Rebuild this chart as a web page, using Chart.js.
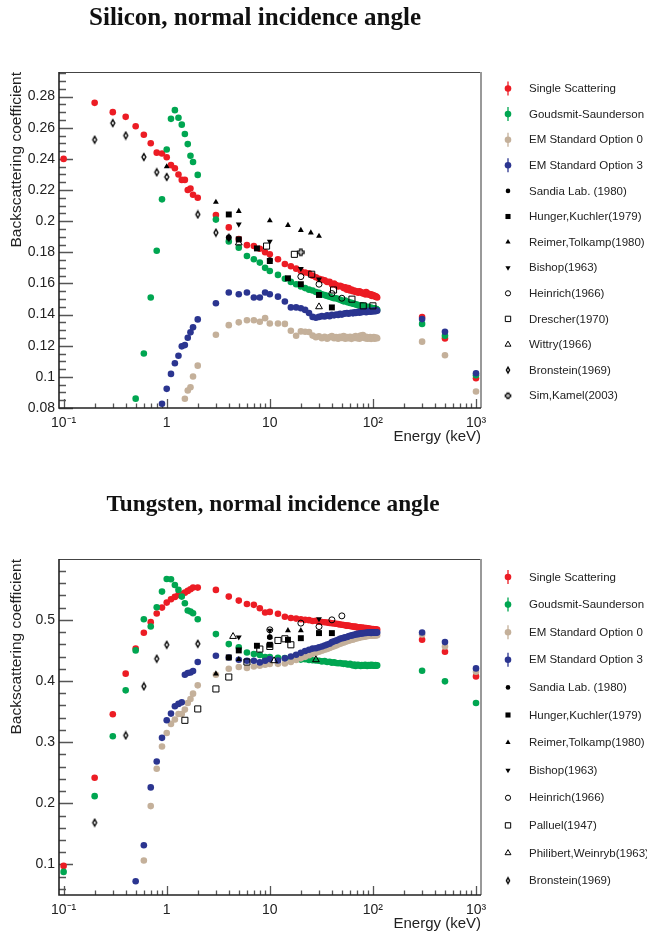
<!DOCTYPE html>
<html>
<head>
<meta charset="utf-8">
<script src="https://cdn.jsdelivr.net/npm/chart.js@4.4.0/dist/chart.umd.min.js"></script>
<style>
html, body { margin: 0; padding: 0; background: #fff; }
#wrap { position: relative; width: 647px; height: 933px; overflow: hidden; }
canvas { position: absolute; left: 0; }
#cSi { top: 0; }
#cW { top: 487px; }
</style>
</head>
<body>
<div id="wrap">
<canvas id="cSi" width="647" height="446"></canvas>
<canvas id="cW" width="647" height="446"></canvas>
</div>
<script>
// energies (keV) of the simulated points
const energyMC = [0.1,0.2,0.3,0.4,0.5,0.6,0.7,0.8,0.9,1.0,1.1,1.2,1.3,1.4,1.5,1.6,1.7,1.8,2.0,
  3,4,5,6,7,8,9,10,
  12,14,16,18,20,22,24,26,28,30,32,34,36,38,40,42,44,46,48,50,52,54,56,58,60,
  62,64,66,68,70,72,74,76,78,80,82,84,86,88,90,92,94,96,98,100,102,104,106,108,110,
  300,500,1000];

// Silicon
const siSingle = [0.240,0.276,0.270,0.267,0.261,0.2555,0.250,0.244,0.2435,0.241,0.236,0.234,0.230,0.2265,0.2265,0.220,0.221,0.217,0.215,
  0.204,0.196,0.1885,0.1846,0.184,0.1823,0.180,0.1787,
  0.1755,0.1725,0.171,0.1695,0.168,0.167,0.1665,0.165,0.164,0.163,0.1625,0.162,0.161,0.161,0.1595,0.160,0.159,0.158,0.1585,0.158,0.157,0.1575,0.156,0.157,0.1555,
  0.156,0.155,0.1555,0.1545,0.155,0.154,0.155,0.1545,0.154,0.1535,0.154,0.153,0.1545,0.153,0.1535,0.153,0.1525,0.153,0.152,0.1525,0.152,0.152,0.1515,0.1515,0.151,
  0.1384,0.1247,0.0991];
const siGoudsmit = [null,null,null,null,0.086,0.115,0.151,0.181,0.214,0.246,0.2657,0.2713,0.2664,0.262,0.256,0.2495,0.242,0.238,0.2297,
  0.201,0.187,0.183,0.1776,0.1755,0.1734,0.170,0.168,
  0.1655,0.163,0.161,0.1595,0.158,0.157,0.156,0.1555,0.1545,0.154,0.153,0.1525,0.152,0.1515,0.151,0.1505,0.1505,0.150,0.1495,0.149,0.1485,0.149,0.148,0.148,0.1475,
  0.1475,0.147,0.147,0.1465,0.1465,0.146,0.146,0.1455,0.146,0.145,0.1455,0.145,0.145,0.1445,0.145,0.1445,0.144,0.1445,0.144,0.144,0.1435,0.144,0.1435,0.1435,0.143,
  0.134,0.1264,0.101];
const siOpt0 = [null,null,null,null,null,null,null,null,null,null,null,null,null,null,0.0859,0.0912,0.0933,0.1002,0.1072,
  0.127,0.1332,0.135,0.1364,0.1364,0.1354,0.1377,0.1343,
  0.1343,0.134,0.1296,0.1264,0.1292,0.129,0.1288,0.1265,0.1255,0.126,0.1248,0.1258,0.1245,0.1255,0.1262,0.1248,0.1256,0.1245,0.1258,0.125,0.1262,0.1245,0.1255,0.1248,0.1258,
  0.1244,0.1256,0.125,0.1262,0.1248,0.1255,0.1245,0.1265,0.1252,0.1268,0.1255,0.1248,0.1258,0.1245,0.1252,0.1246,0.1255,0.1244,0.125,0.1248,0.1255,0.1245,0.125,0.1252,0.1248,
  0.1226,0.1139,0.0906];
const siOpt3 = [null,null,null,null,null,null,null,null,0.0827,0.0923,0.1019,0.1087,0.1136,0.1196,0.1204,0.1251,0.1286,0.1318,0.1369,
  0.1473,0.1542,0.1531,0.1542,0.151,0.151,0.1542,0.1531,
  0.1515,0.1484,0.1446,0.1446,0.1441,0.143,0.141,0.1385,0.138,0.1385,0.139,0.1388,0.1395,0.139,0.1398,0.1395,0.140,0.1398,0.1405,0.140,0.1405,0.1408,0.141,0.1405,0.141,
  0.1412,0.1408,0.1415,0.141,0.1415,0.1418,0.1412,0.142,0.1415,0.142,0.1418,0.1422,0.1415,0.1422,0.142,0.1425,0.1418,0.1425,0.142,0.1425,0.1422,0.1428,0.1422,0.1428,0.1425,
  0.1371,0.129,0.1023];

const siSandiaE = [4, 10], siSandiaV = [0.1895, 0.175];
const siHungerE = [4, 5, 7.5, 10, 15, 20, 30, 40], siHungerV = [0.2043, 0.1883, 0.1825, 0.1744, 0.1633, 0.1595, 0.1526, 0.1446];
const siReimerE = [1, 3, 5, 10, 15, 20, 25, 30], siReimerV = [0.235, 0.2122, 0.2064, 0.2004, 0.1974, 0.1942, 0.1926, 0.1904];
const siBishopE = [5, 10, 20, 30], siBishopV = [0.198, 0.187, 0.1695, 0.1627];
const siHeinrichE = [20, 30, 40, 50], siHeinrichV = [0.1644, 0.1595, 0.1535, 0.1505];
const siDrescherE = [9.3, 17.3, 25.5, 41.5, 62.6, 80.6, 100], siDrescherV = [0.184, 0.1787, 0.1659, 0.1558, 0.1499, 0.1456, 0.1456];
const siWittryE = [5, 30], siWittryV = [0.186, 0.145];
const siBronsteinE = [0.2, 0.3, 0.4, 0.6, 0.8, 1, 2, 3, 4], siBronsteinV = [0.2523, 0.263, 0.255, 0.2412, 0.2314, 0.2284, 0.2043, 0.1926, 0.1894];
const siSimKamelE = [20], siSimKamelV = [0.180];

// Tungsten
const wSingle = [0.0976,0.2417,0.3455,0.412,0.4532,0.4788,0.4962,0.5103,0.52,0.5282,0.5337,0.5375,0.5408,0.5419,0.5445,0.5473,0.55,0.5527,0.5527,
  0.549,0.538,0.5315,0.526,0.5245,0.519,0.512,0.513,
  0.510,0.505,0.503,0.502,0.501,0.500,0.4995,0.498,0.4985,0.497,0.4965,0.496,0.4955,0.495,0.4945,0.494,0.4935,0.493,0.4925,0.492,0.4915,0.491,0.4905,0.4905,0.490,
  0.4895,0.489,0.4885,0.489,0.488,0.4875,0.488,0.487,0.4875,0.4865,0.487,0.486,0.4865,0.4855,0.486,0.485,0.4855,0.485,0.4845,0.485,0.4845,0.484,0.4845,0.4835,0.484,
  0.4674,0.4478,0.4075];
const wGoudsmit = [0.0878,0.2117,0.3097,0.3847,0.450,0.501,0.489,0.5207,0.5462,0.5669,0.5663,0.5571,0.549,0.538,0.5271,0.5152,0.5135,0.5109,0.501,
  0.4767,0.4603,0.4549,0.4467,0.444,0.4424,0.4391,0.439,
  0.438,0.4375,0.436,0.4365,0.435,0.4355,0.4345,0.434,0.4335,0.433,0.432,0.4325,0.431,0.4315,0.430,0.4305,0.4295,0.429,0.4295,0.4285,0.428,0.4285,0.4275,0.427,0.428,
  0.4265,0.4255,0.427,0.4245,0.426,0.4265,0.4255,0.4245,0.426,0.425,0.4255,0.4265,0.425,0.4245,0.426,0.4255,0.425,0.4265,0.4255,0.426,0.425,0.4255,0.426,0.425,0.4255,
  0.4168,0.3994,0.364];
const wOpt0 = [null,null,null,null,null,0.1064,0.1954,0.2564,0.2928,0.315,0.3298,0.3369,0.3461,0.3461,0.3532,0.364,0.3706,0.3793,0.3929,
  0.4103,0.4201,0.4228,0.4212,0.4238,0.425,0.4266,0.4277,
  0.428,0.4285,0.431,0.4345,0.437,0.4395,0.442,0.4445,0.446,0.448,0.4495,0.451,0.4525,0.454,0.4555,0.457,0.458,0.4595,0.461,0.462,0.463,0.464,0.465,0.466,0.4665,
  0.4675,0.468,0.4685,0.4695,0.470,0.4705,0.471,0.4715,0.472,0.472,0.4725,0.473,0.473,0.4735,0.4735,0.474,0.474,0.4745,0.474,0.4745,0.4745,0.475,0.4745,0.475,0.475,
  0.476,0.4565,0.415];
const wOpt3 = [null,null,null,null,0.0726,0.1313,0.226,0.2683,0.307,0.3357,0.3467,0.3586,0.3625,0.3651,0.4103,0.413,0.414,0.4163,0.431,
  0.4413,0.4385,0.4347,0.4331,0.4331,0.4304,0.433,0.4358,
  0.4335,0.437,0.440,0.443,0.446,0.449,0.451,0.453,0.4535,0.455,0.4565,0.458,0.4595,0.461,0.4635,0.465,0.466,0.4675,0.469,0.470,0.4705,0.4715,0.472,0.473,0.474,
  0.4745,0.475,0.4755,0.476,0.477,0.4765,0.4775,0.478,0.4775,0.4785,0.478,0.479,0.4785,0.479,0.4795,0.479,0.4795,0.4785,0.4795,0.479,0.4795,0.479,0.4795,0.479,0.4795,
  0.4793,0.4636,0.4206];

const wSandiaE = [10], wSandiaV = [0.4718];
const wHungerE = [4, 5, 7.5, 10, 15, 20, 30, 40], wHungerV = [0.4385, 0.45, 0.4576, 0.4592, 0.4674, 0.47, 0.4783, 0.4783];
const wReimerE = [3, 5, 10, 15, 20], wReimerV = [0.4119, 0.4355, 0.4718, 0.4826, 0.4826];
const wBishopE = [5, 10, 30], wBishopV = [0.4718, 0.4826, 0.5016];
const wHeinrichE = [10, 20, 30, 40, 50], wHeinrichV = [0.4837, 0.4946, 0.489, 0.5, 0.5065];
const wPalluelE = [1.5, 2, 3, 4, 6, 8, 10, 12, 14, 16], wPalluelV = [0.3357, 0.3543, 0.387, 0.4065, 0.431, 0.4522, 0.4565, 0.4663, 0.469, 0.4592];
const wPhilibertE = [4.4, 11, 28], wPhilibertV = [0.4728, 0.4331, 0.4347];
const wBronsteinE = [0.2, 0.4, 0.6, 0.8, 1, 2], wBronsteinV = [0.1683, 0.311, 0.3912, 0.4364, 0.4592, 0.4608];

// axes
const xRange = [0.0902, 1118];
const xTickValues = [0.1, 1, 10, 100, 1000];
const xTickLabels = ['10\u207B\u00B9', '1', '10', '10\u00B2', '10\u00B3'];
const siYRange = [0.08, 0.2958];
const siYTicks = [0.08, 0.1, 0.12, 0.14, 0.16, 0.18, 0.2, 0.22, 0.24, 0.26, 0.28];
const wYRange = [0.05, 0.5995];
const wYTicks = [0.1, 0.2, 0.3, 0.4, 0.5];

const SANS = '"Liberation Sans", Arial, Helvetica, sans-serif';
const RED = '#ec1c24', GREEN = '#00a651', TAN = '#c4b09a', BLUE = '#2b3590';

Chart.defaults.font.family = SANS;
Chart.defaults.color = '#222';

function pts(xs, ys) {
    return xs.map((x, i) => ({ x: x, y: ys[i] }));
}

// narrow open diamond and open cross markers, k = scale
function diamondMarker(k) {
    const c = document.createElement('canvas');
    c.width = 8; c.height = 10;
    const g = c.getContext('2d');
    g.strokeStyle = '#000';
    g.lineWidth = 1.4;
    g.beginPath();
    g.moveTo(4, 5 - 3.3 * k); g.lineTo(4 + 1.9 * k, 5); g.lineTo(4, 5 + 3.3 * k); g.lineTo(4 - 1.9 * k, 5);
    g.closePath();
    g.stroke();
    return c;
}
function crossMarker(k) {
    const c = document.createElement('canvas');
    c.width = 10; c.height = 10;
    const g = c.getContext('2d');
    g.strokeStyle = '#000';
    g.lineWidth = 1.2;
    const o = 5, a = o - 3.2 * k, b = o - 1.2 * k, d = o + 1.2 * k, e = o + 3.2 * k;
    g.beginPath();
    g.moveTo(b, a); g.lineTo(d, a); g.lineTo(d, b); g.lineTo(e, b); g.lineTo(e, d); g.lineTo(d, d);
    g.lineTo(d, e); g.lineTo(b, e); g.lineTo(b, d); g.lineTo(a, d); g.lineTo(a, b); g.lineTo(b, b);
    g.closePath();
    g.stroke();
    return c;
}

function mcSet(label, color, ys, order) {
    return {
        label: label, data: pts(energyMC, ys), mc: true, order: order, clip: false,
        pointStyle: 'circle', pointRadius: 3.3, pointBorderWidth: 0,
        pointBackgroundColor: color, pointBorderColor: color, backgroundColor: color, borderColor: color
    };
}

// marker styles: plot radius r, legend radius lr
const MARKS = {
    dot:    { pointStyle: 'circle', r: 2.9, lr: 2.3, fill: true },
    square: { pointStyle: 'rect', r: 4.2, lr: 3.6, fill: true },
    up:     { pointStyle: 'triangle', r: 3.4, lr: 3.0, fill: true },
    down:   { pointStyle: 'triangle', r: 3.4, lr: 3.0, fill: true, rotation: 180 },
    circ:   { pointStyle: 'circle', r: 3.0, lr: 2.6, fill: false },
    box:    { pointStyle: 'rect', r: 4.3, lr: 3.8, fill: false },
    tri:    { pointStyle: 'triangle', r: 3.9, lr: 3.4, fill: false },
    diam:   { pointStyle: diamondMarker(1), legend: diamondMarker(0.85), r: 4, lr: 3, fill: false },
    cross:  { pointStyle: crossMarker(1), legend: crossMarker(0.85), r: 4, lr: 3, fill: false }
};

function expSet(label, mark, xs, ys) {
    const m = MARKS[mark];
    return {
        label: label, data: pts(xs, ys), mc: false, order: 0, clip: false,
        pointStyle: m.pointStyle, pointRadius: m.r, pointRotation: m.rotation || 0,
        legendStyle: m.legend || m.pointStyle, legendRadius: m.lr,
        pointBorderWidth: m.fill ? 0 : 1, pointBorderColor: '#000',
        pointBackgroundColor: m.fill ? '#000' : 'rgba(0,0,0,0)',
        borderColor: '#000', backgroundColor: m.fill ? '#000' : 'rgba(0,0,0,0)'
    };
}

// frame and ROOT style inner tick marks
const framePlugin = {
    id: 'rootFrame',
    beforeDatasetsDraw(chart, args, opts) {
        const ctx = chart.ctx, a = chart.chartArea, xs = chart.scales.x, ys = chart.scales.y;
        ctx.save();
        ctx.strokeStyle = '#555';
        ctx.lineWidth = 1.3;
        ctx.beginPath();
        const step = opts.yMinor;
        for (let k = Math.ceil(ys.min / step - 1e-6); k * step <= ys.max + 1e-9; k++) {
            const v = k * step;
            const major = opts.yTicks.some(t => Math.abs(t - v) < step / 10);
            const py = Math.round(ys.getPixelForValue(v)) + 0.5;
            ctx.moveTo(a.left, py);
            ctx.lineTo(a.left + (major ? 14 : 7), py);
        }
        for (let e = -2; e <= 3; e++) {
            for (let m = 1; m <= 9; m++) {
                const v = m * Math.pow(10, e);
                if (v < xs.min || v > xs.max) continue;
                const px = Math.round(xs.getPixelForValue(v)) + 0.5;
                ctx.moveTo(px, a.bottom);
                ctx.lineTo(px, a.bottom - (m === 1 ? 9 : 4.5));
            }
        }
        ctx.stroke();
        // frame
        ctx.lineWidth = 1.2;
        ctx.strokeStyle = '#444';
        ctx.beginPath();
        ctx.moveTo(a.left, a.top + 0.5);
        ctx.lineTo(a.right, a.top + 0.5);
        ctx.stroke();
        ctx.strokeStyle = '#999';
        ctx.lineWidth = 2;
        ctx.beginPath();
        ctx.moveTo(a.right, a.top);
        ctx.lineTo(a.right, a.bottom);
        ctx.stroke();
        ctx.strokeStyle = '#222';
        ctx.lineWidth = 1.6;
        ctx.beginPath();
        ctx.moveTo(a.left, a.top);
        ctx.lineTo(a.left, a.bottom);
        ctx.lineTo(a.right, a.bottom);
        ctx.stroke();
        ctx.restore();
    }
};

// title and legend drawn beside the frame
const legendPlugin = {
    id: 'rootLegend',
    afterDraw(chart, args, opts) {
        const ctx = chart.ctx;
        ctx.save();
        ctx.fillStyle = '#111';
        ctx.textAlign = 'center';
        ctx.textBaseline = 'middle';
        ctx.font = 'bold ' + opts.titleSize + 'px "Liberation Serif", "Times New Roman", serif';
        ctx.fillText(opts.title, opts.titleX, opts.titleY);

        ctx.font = '11.5px ' + SANS;
        ctx.textAlign = 'left';
        chart.data.datasets.forEach((ds, i) => {
            const y = opts.top + i * opts.step;
            const x = 508;
            if (ds.mc) {
                ctx.strokeStyle = ds.pointBackgroundColor;
                ctx.lineWidth = 1.3;
                ctx.beginPath();
                ctx.moveTo(x, y - 7);
                ctx.lineTo(x, y + 7);
                ctx.stroke();
            }
            ctx.fillStyle = ds.pointBackgroundColor;
            ctx.strokeStyle = ds.pointBorderColor;
            ctx.lineWidth = ds.pointBorderWidth;
            Chart.helpers.drawPoint(ctx, {
                pointStyle: ds.mc ? ds.pointStyle : ds.legendStyle,
                radius: ds.mc ? ds.pointRadius : ds.legendRadius,
                rotation: ds.pointRotation || 0,
                borderWidth: ds.pointBorderWidth
            }, x, y);
            ctx.fillStyle = '#222';
            ctx.fillText(ds.label, 529, y + 0.5);
        });
        ctx.restore();
    }
};

function makeChart(id, datasets, yRange, yTicks, yMinor, legendOpts) {
    return new Chart(document.getElementById(id), {
        type: 'scatter',
        data: { datasets: datasets },
        plugins: [framePlugin, legendPlugin],
        options: {
            responsive: false,
            animation: false,
            devicePixelRatio: 1,
            events: [],
            layout: { padding: { left: 0, top: 72, right: 166, bottom: 0 } },
            plugins: {
                legend: { display: false },
                tooltip: { enabled: false },
                rootFrame: { yTicks: yTicks, yMinor: yMinor },
                rootLegend: legendOpts
            },
            scales: {
                x: {
                    type: 'logarithmic',
                    min: xRange[0], max: xRange[1],
                    afterBuildTicks: s => { s.ticks = xTickValues.map(v => ({ value: v, major: true })); },
                    afterFit: s => { s.height = 38; },
                    ticks: {
                        autoSkip: false, maxRotation: 0, padding: 7, color: '#222',
                        font: { size: 14 },
                        callback: (v, i) => xTickLabels[i]
                    },
                    grid: { display: false, drawTicks: false },
                    border: { display: false },
                    title: {
                        display: true, text: 'Energy (keV)', align: 'end', color: '#222',
                        font: { size: 15 }, padding: { top: 0, bottom: 0 }
                    }
                },
                y: {
                    type: 'linear',
                    min: yRange[0], max: yRange[1],
                    afterBuildTicks: s => { s.ticks = yTicks.map(v => ({ value: v })); },
                    afterFit: s => { s.width = 59; },
                    ticks: {
                        padding: 4, color: '#222', font: { size: 14 },
                        callback: v => String(+v.toFixed(3))
                    },
                    grid: { display: false, drawTicks: false },
                    border: { display: false },
                    title: {
                        display: true, text: 'Backscattering coefficient', align: 'end', color: '#222',
                        font: { size: 15.5 }, padding: { top: 7, bottom: 0 }
                    }
                }
            }
        }
    });
}

makeChart('cSi', [
    mcSet('Single Scattering', RED, siSingle, 4),
    mcSet('Goudsmit-Saunderson', GREEN, siGoudsmit, 3),
    mcSet('EM Standard Option 0', TAN, siOpt0, 2),
    mcSet('EM Standard Option 3', BLUE, siOpt3, 1),
    expSet('Sandia Lab. (1980)', 'dot', siSandiaE, siSandiaV),
    expSet('Hunger,Kuchler(1979)', 'square', siHungerE, siHungerV),
    expSet('Reimer,Tolkamp(1980)', 'up', siReimerE, siReimerV),
    expSet('Bishop(1963)', 'down', siBishopE, siBishopV),
    expSet('Heinrich(1966)', 'circ', siHeinrichE, siHeinrichV),
    expSet('Drescher(1970)', 'box', siDrescherE, siDrescherV),
    expSet('Wittry(1966)', 'tri', siWittryE, siWittryV),
    expSet('Bronstein(1969)', 'diam', siBronsteinE, siBronsteinV),
    expSet('Sim,Kamel(2003)', 'cross', siSimKamelE, siSimKamelV)
], siYRange, siYTicks, 0.005,
    { title: 'Silicon, normal incidence angle', titleSize: 25, titleX: 255, titleY: 19, top: 88.5, step: 25.6 });

makeChart('cW', [
    mcSet('Single Scattering', RED, wSingle, 4),
    mcSet('Goudsmit-Saunderson', GREEN, wGoudsmit, 3),
    mcSet('EM Standard Option 0', TAN, wOpt0, 2),
    mcSet('EM Standard Option 3', BLUE, wOpt3, 1),
    expSet('Sandia Lab. (1980)', 'dot', wSandiaE, wSandiaV),
    expSet('Hunger,Kuchler(1979)', 'square', wHungerE, wHungerV),
    expSet('Reimer,Tolkamp(1980)', 'up', wReimerE, wReimerV),
    expSet('Bishop(1963)', 'down', wBishopE, wBishopV),
    expSet('Heinrich(1966)', 'circ', wHeinrichE, wHeinrichV),
    expSet('Palluel(1947)', 'box', wPalluelE, wPalluelV),
    expSet('Philibert,Weinryb(1963)', 'tri', wPhilibertE, wPhilibertV),
    expSet('Bronstein(1969)', 'diam', wBronsteinE, wBronsteinV)
], wYRange, wYTicks, 0.02,
    { title: 'Tungsten, normal incidence angle', titleSize: 23.3, titleX: 273, titleY: 18, top: 90, step: 27.6 });
</script>
</body>
</html>
